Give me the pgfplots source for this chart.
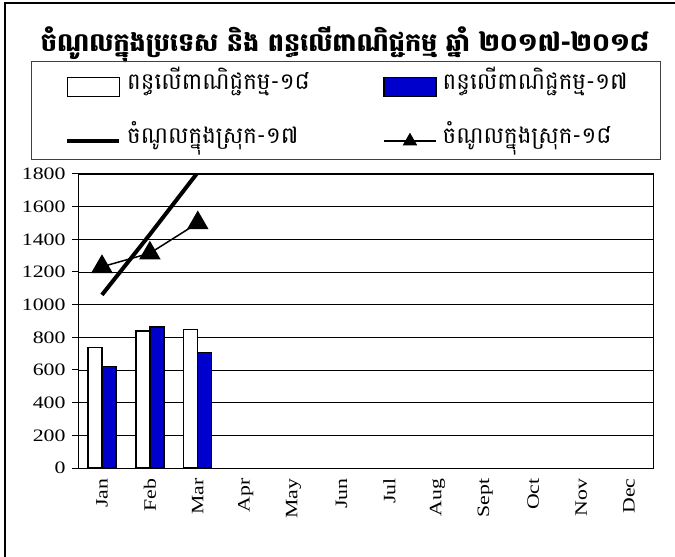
\documentclass[border=0pt]{standalone}
\usepackage{fontspec}
\usepackage{pgfplots}
\pgfplotsset{compat=1.18}
\setmainfont{Liberation Serif}
\newfontfamily\khmer[Script=Khmer]{Battambang}
\newfontfamily\tickfont[FakeStretch=1.25]{Liberation Serif}
\definecolor{barblue}{RGB}{0,0,204}
\begin{document}
\begin{tikzpicture}
\useasboundingbox (0,0) rectangle (675bp,557bp);
\draw[line width=1.2bp] (5bp,0bp) -- (5bp,554bp) -- (675bp,554bp);
\node[font=\khmer\bfseries\fontsize{25.5}{30}\selectfont] at (345bp,512bp) {ចំណូលក្នុងប្រទេស និង ពន្ធលើពាណិជ្ជកម្ម ឆ្នាំ ២០១៧-២០១៨};
\draw[line width=1bp, black!75] (31bp,397bp) rectangle (660bp,495bp);
\begin{axis}[
  at={(78bp,89bp)}, anchor=south west,
  scale only axis, width=575bp, height=294bp,
  xmin=-0.5, xmax=11.5, ymin=0, ymax=1800,
  ytick={0,200,...,1800},
  xtick={0,...,11},
  xticklabels={Jan,Feb,Mar,Apr,May,Jun,Jul,Aug,Sept,Oct,Nov,Dec},
  minor xtick={-0.5,0.5,...,11.5},
  tick pos=left, tick align=outside,
  major tick length=6bp, minor tick length=7bp,
  xtick style={draw=none},
  minor tick style={black, line width=1bp},
  ytick style={black, line width=1bp},
  ymajorgrids, grid style={black, line width=0.8bp},
  axis line style={line width=1bp},
  /pgf/number format/assume math mode=true,
  /pgf/number format/1000 sep={},
  yticklabel style={font=\tickfont\fontsize{17.5}{17.5}\selectfont},
  yticklabel shift=3bp,
  xticklabel style={font=\tickfont\fontsize{17.5}{17.5}\selectfont, rotate=90, anchor=east},
  xticklabel shift=1bp,
  legend cell align=left,
  legend columns=2,
  legend style={draw=none, fill=none, at={(axis description cs:-0.0226,1.3435)}, anchor=north west,
    inner xsep=0pt, inner ysep=0pt, row sep=26bp,
    nodes={inner sep=3bp, text height=13bp, text depth=9bp},
    font=\khmer\fontsize{23}{25}\selectfont},
]
\addplot[ybar, bar width=14bp, bar shift=-7bp, fill=white, draw=black, line width=1.4bp,
  legend image code/.code={\draw[fill=white, draw=black, line width=1.4bp] (0bp,-9.5bp) rectangle (52bp,9.5bp);}]
  coordinates {(0,736) (1,838) (2,847)};
\addlegendentry{\makebox[256bp][l]{\hspace{3bp}ពន្ធលើពាណិជ្ជកម្ម-១៨}}
\addplot[ybar, bar width=14bp, bar shift=7bp, fill=barblue, draw=black, line width=1.4bp,
  legend image code/.code={\draw[fill=barblue, draw=black, line width=1.4bp] (0bp,-9.5bp) rectangle (52bp,9.5bp);}]
  coordinates {(0,623) (1,863) (2,706)};
\addlegendentry{\hspace{3bp}ពន្ធលើពាណិជ្ជកម្ម-១៧}
\addplot[black, line width=4bp, mark=none,
  legend image code/.code={\draw[black, line width=4bp] (0bp,0bp) -- (52bp,0bp);}]
  coordinates {(0,1060) (1,1430) (2,1810)};
\addlegendentry{\makebox[256bp][l]{\hspace{3bp}ចំណូលក្នុងស្រុក-១៧}}
\addplot[black, line width=1.5bp, mark=triangle*, mark size=11bp,
  legend image code/.code={\draw[black, line width=1.5bp] (0bp,0bp) -- (52bp,0bp);
    \begin{scope}[shift={(26bp,0bp)}]\pgfsetplotmarksize{7bp}\pgfuseplotmark{triangle*}\end{scope}}]
  coordinates {(0,1232) (1,1315) (2,1500)};
\addlegendentry{\hspace{3bp}ចំណូលក្នុងស្រុក-១៨}
\end{axis}
\end{tikzpicture}
\end{document}
